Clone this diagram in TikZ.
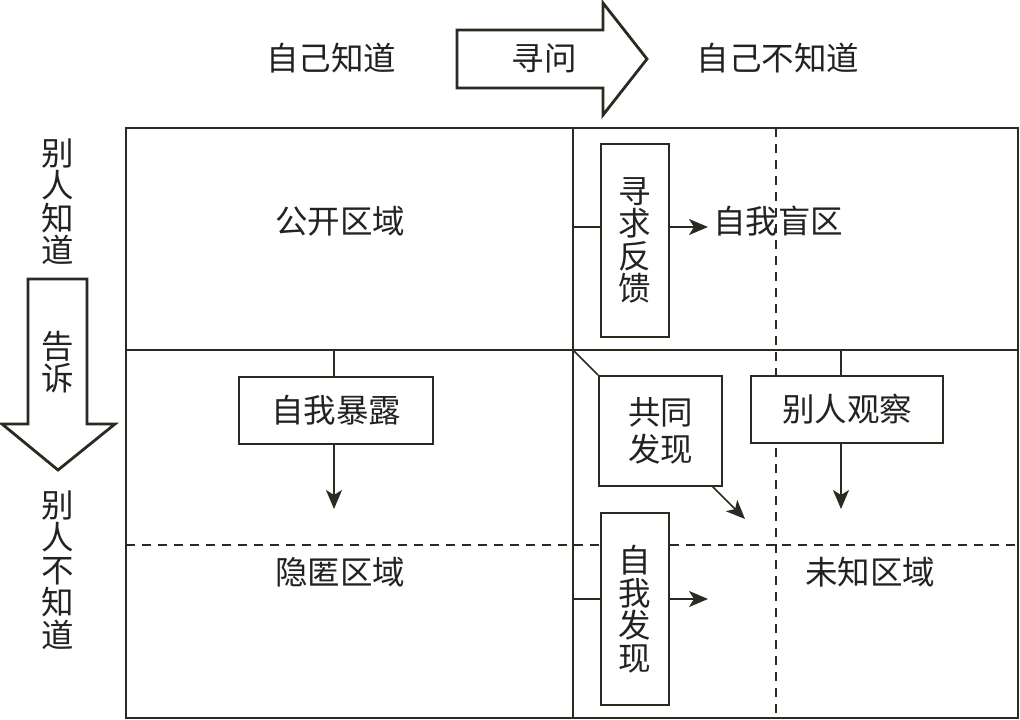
\documentclass[tikz,border=0pt]{standalone}
\usepackage{fontspec}
\setmainfont{Noto Sans CJK SC}
\usetikzlibrary{arrows.meta}
\definecolor{lc}{HTML}{2A2A20}
\definecolor{tc}{HTML}{222222}
\begin{document}
\begin{tikzpicture}[x=1pt,y=-1pt]
\tikzset{
  ln/.style={draw=lc, line width=1.6pt},
  bx/.style={draw=lc, line width=1.8pt, fill=white, inner sep=0pt, align=center,
    font=\fontsize{32.5}{32.5}\selectfont, text=tc},
  txt/.style={font=\fontsize{32.5}{32.5}\selectfont, text=tc, inner sep=0pt, align=center},
  arr/.style={ln, -{Stealth[length=19pt,width=16pt,inset=5pt]}},
  dsh/.style={draw=lc, line width=1.8pt, dash pattern=on 9pt off 7pt},
  big/.style={draw=lc, line width=2.8pt, fill=white, line join=miter}
}
\fill[white] (0,0) rectangle (1020,720);
\useasboundingbox (0,0) rectangle (1020,720);
% top labels
\node[txt] (kn) at (331,58) {自己知道};
\node[txt] (unk) at (778,58) {自己不知道};
\draw[big] (457,30) -- (603,30) -- (603,3) -- (647,59) -- (603,115) -- (603,88) -- (457,88) -- cycle;
\node[txt] (ask) at (544,58) {寻问};
% left labels
\node[txt] (okn) at (58,202) {别\\人\\知\\道};
\node[txt] (ounk) at (58,570) {别\\人\\不\\知\\道};
\draw[big] (28,279) -- (87,279) -- (87,424) -- (115,424) -- (58,470) -- (2,424) -- (28,424) -- cycle;
\node[txt] (tell) at (58,362) {告\\诉};
% grid
\draw[dsh] (776,128) -- (776,718);
\draw[dsh] (126,545) -- (1018,545);
\draw[ln] (573,128) -- (573,718);
\draw[ln] (126,350) -- (1018,350);
\draw[draw=lc, line width=2.8pt] (126,128) rectangle (1018,718);
\coordinate (c) at (573,350);
% quadrant texts
\node[txt] (open) at (340,221) {公开区域};
\node[txt] (blind) at (778,221) {自我盲区};
\node[txt] (hidden) at (340,572) {隐匿区域};
\node[txt] (unknown) at (870,572) {未知区域};
% boxes
\node[bx, minimum width=68pt, minimum height=193pt] (fb) at (635,240.5) {寻\\求\\反\\馈};
\node[bx, minimum width=194pt, minimum height=67pt] (disc) at (336,410.5) {自我暴露};
\node[bx, minimum width=123pt, minimum height=110pt] (co) at (660.5,431) {共同\\[4pt]发现};
\node[bx, minimum width=192pt, minimum height=67pt] (obs) at (847,409.5) {别人观察};
\node[bx, minimum width=68pt, minimum height=192pt] (self) at (635,609) {自\\我\\发\\现};
% connectors
\coordinate (fbL) at (573,227);
\coordinate (fbE) at (708,227);
\draw[ln] (fbL) -- (fbL -| fb.west);
\draw[arr] (fbE -| fb.east) -- (fbE);
\coordinate (dT) at (334,350);
\coordinate (dE) at (334,509);
\draw[ln] (dT) -- (dT |- disc.north);
\draw[arr] (dE |- disc.south) -- (dE);
\coordinate (oT) at (841,350);
\coordinate (oE) at (841,509);
\draw[ln] (oT) -- (oT |- obs.north);
\draw[arr] (oE |- obs.south) -- (oE);
\draw[ln] (c) -- (co.north west);
\coordinate (coS) at (712,486);
\coordinate (coE) at (745,519);
\draw[arr] (coS) -- (coE);
\coordinate (sL) at (573,599);
\coordinate (sE) at (708,599);
\draw[ln] (sL) -- (sL -| self.west);
\draw[arr] (sE -| self.east) -- (sE);
\end{tikzpicture}
\end{document}
